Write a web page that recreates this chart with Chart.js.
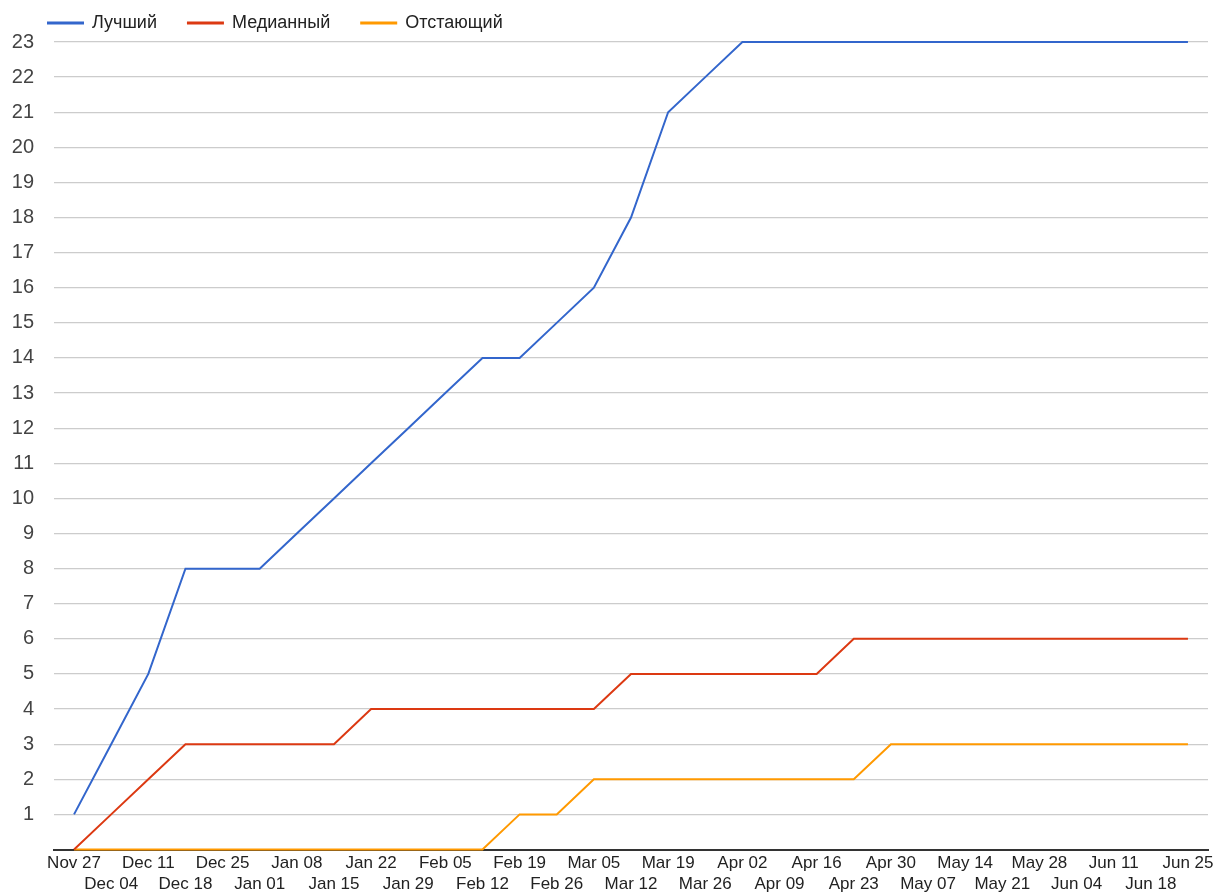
<!DOCTYPE html>
<html>
<head>
<meta charset="utf-8">
<script src="https://cdn.jsdelivr.net/npm/chart.js@4"></script>
<style>
  html, body { margin: 0; padding: 0; background: #ffffff; }
  #wrap { width: 1218px; height: 892px; position: relative; }
</style>
</head>
<body>
<div id="wrap"><canvas id="c"></canvas></div>
<script>
const dates = ['Nov 27','Dec 04','Dec 11','Dec 18','Dec 25','Jan 01','Jan 08','Jan 15','Jan 22','Jan 29','Feb 05','Feb 12','Feb 19','Feb 26','Mar 05','Mar 12','Mar 19','Mar 26','Apr 02','Apr 09','Apr 16','Apr 23','Apr 30','May 07','May 14','May 21','May 28','Jun 04','Jun 11','Jun 18','Jun 25'];
const seriesNames = ['Лучший', 'Медианный', 'Отстающий'];
const best    = [1,3,5,8,8,8,9,10,11,12,13,14,14,15,16,18,21,22,23,23,23,23,23,23,23,23,23,23,23,23,23];
const median  = [0,1,2,3,3,3,3,3,4,4,4,4,4,4,4,5,5,5,5,5,5,6,6,6,6,6,6,6,6,6,6];
const lagging = [0,0,0,0,0,0,0,0,0,0,0,0,1,1,2,2,2,2,2,2,2,2,3,3,3,3,3,3,3,3,3];
const yTicks = [0,1,2,3,4,5,6,7,8,9,10,11,12,13,14,15,16,17,18,19,20,21,22,23];
const colors = ['#3366cc', '#dc3912', '#ff9900'];

function pts(arr) { return arr.map((v, i) => ({ x: i, y: v })); }

const ds = [best, median, lagging].map((arr, k) => ({
  label: seriesNames[k],
  data: pts(arr),
  borderColor: colors[k],
  backgroundColor: colors[k],
  borderWidth: 2,
  pointRadius: 0,
  tension: 0,
  clip: 4
}));

const legendShift = {
  id: 'legendShift',
  afterLayout(chart) {
    if (chart.legend) { chart.legend.left += 5; chart.legend.right += 5; }
  }
};

new Chart(document.getElementById('c'), {
  type: 'line',
  data: { datasets: ds },
  plugins: [legendShift],
  options: {
    responsive: true,
    maintainAspectRatio: false,
    animation: false,
    layout: { padding: { left: 12, right: 10, top: -17, bottom: -6 } },
    plugins: {
      tooltip: { enabled: false },
      legend: {
        position: 'top',
        align: 'start',
        labels: {
          boxWidth: 35,
          boxHeight: 1,
          padding: 31,
          color: '#222222',
          font: { family: 'Arial, "Liberation Sans", sans-serif', size: 18 }
        }
      }
    },
    scales: {
      x: {
        type: 'linear',
        min: -0.54,
        max: 30.54,
        grid: { display: false, drawTicks: false },
        border: { display: true, color: '#333333', width: 2 },
        afterBuildTicks: function (s) { s.ticks = dates.map((d, i) => ({ value: i })); },
        afterFit: function (s) { s.paddingLeft = 0; s.paddingRight = 0; },
        ticks: {
          autoSkip: false,
          maxRotation: 0,
          minRotation: 0,
          padding: 3,
          color: '#222222',
          font: { family: 'Arial, "Liberation Sans", sans-serif', size: 17, lineHeight: 1.25 },
          callback: function (v) {
            const i = Math.round(v);
            if (Math.abs(v - i) > 1e-6 || i < 0 || i >= dates.length) return '';
            return i % 2 === 0 ? [dates[i], ''] : ['', dates[i]];
          }
        }
      },
      y: {
        min: yTicks[0],
        max: yTicks[yTicks.length - 1],
        grid: { color: '#cccccc', lineWidth: 1.3, drawTicks: false },
        border: { display: false },
        afterBuildTicks: function (s) { s.ticks = yTicks.map(v => ({ value: v })); },
        afterFit: function (s) { s.width = 42; },
        ticks: {
          autoSkip: false,
          padding: 20,
          color: '#444444',
          font: { family: 'Arial, "Liberation Sans", sans-serif', size: 20 },
          callback: function (v) { return v === 0 ? '' : String(v); }
        }
      }
    }
  }
});
</script>
</body>
</html>
